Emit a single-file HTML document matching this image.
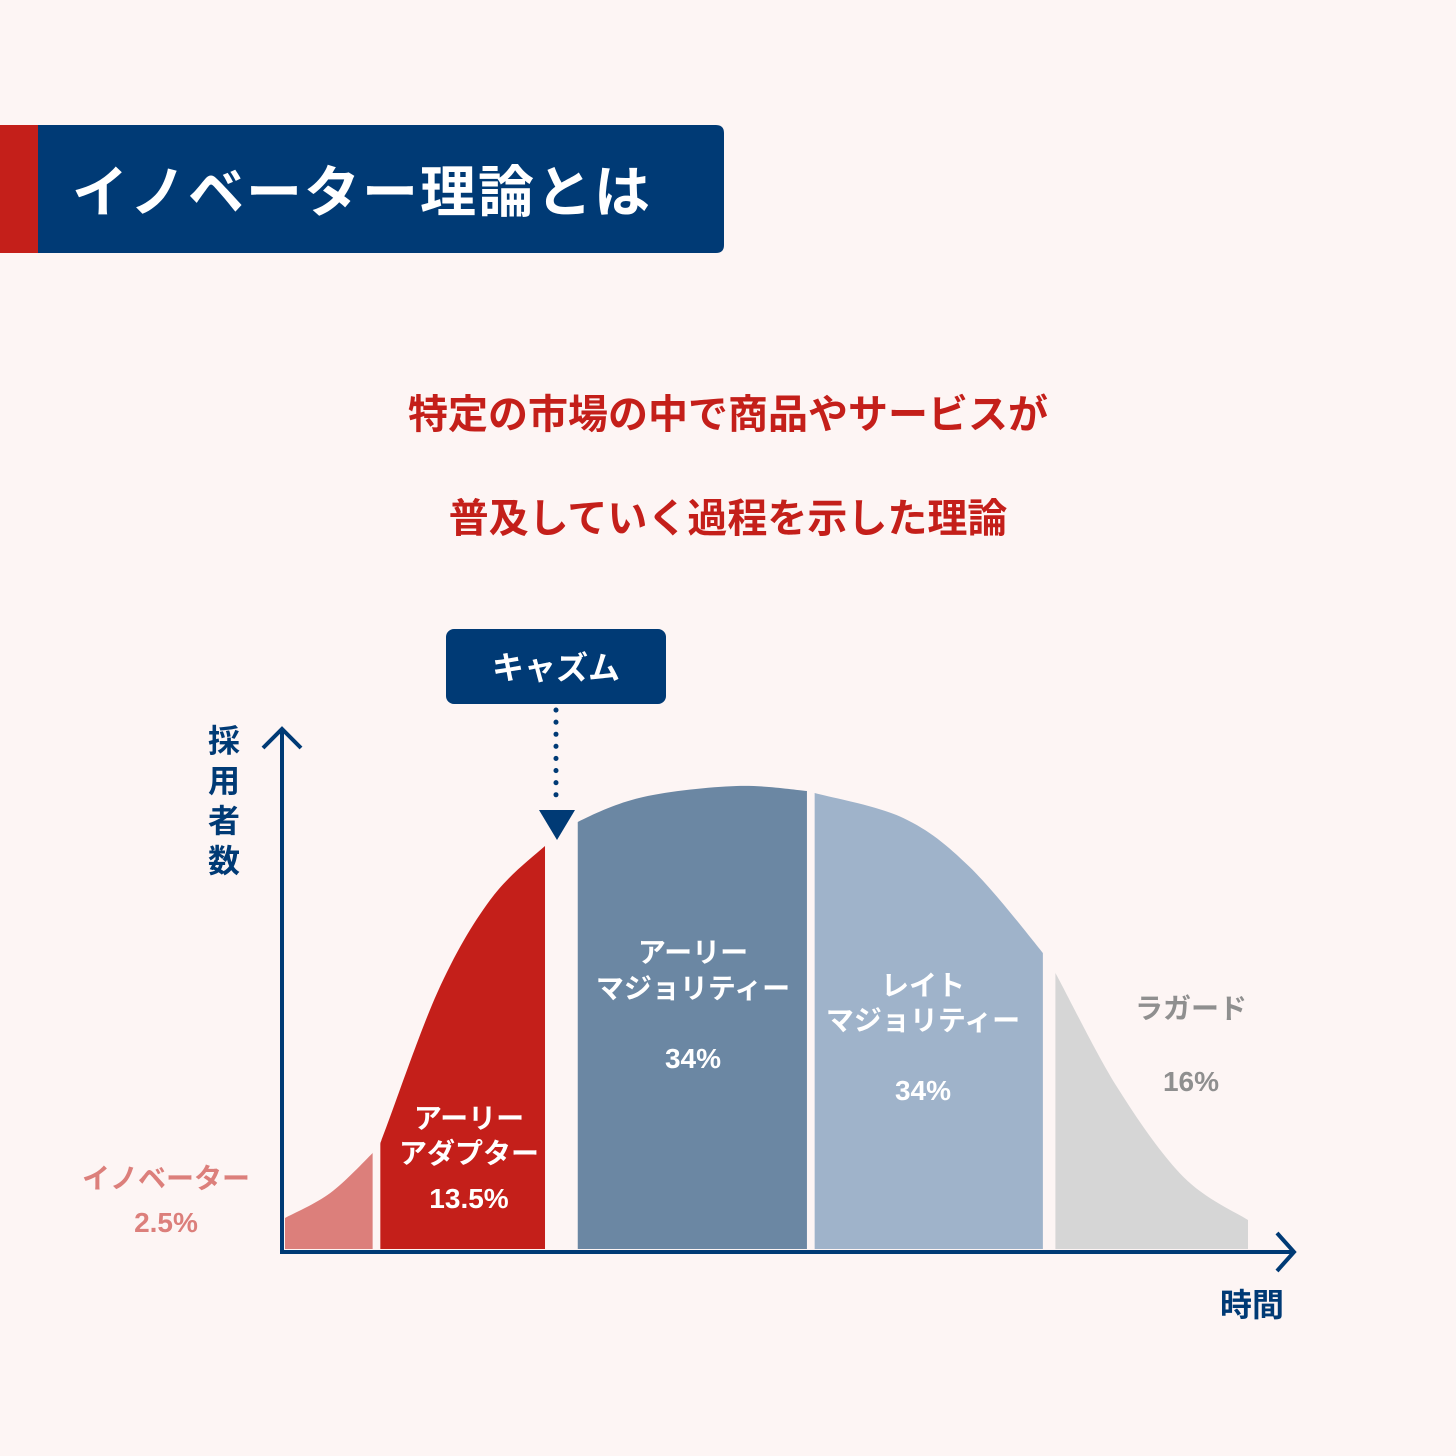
<!DOCTYPE html>
<html><head><meta charset="utf-8">
<style>
html,body{margin:0;padding:0;background:#fdf5f4;}
body{width:1456px;height:1456px;position:relative;overflow:hidden;font-family:"Liberation Sans","Noto Sans CJK JP",sans-serif;}
</style></head>
<body>
<svg width="1456" height="1456" viewBox="0 0 1456 1456" xmlns="http://www.w3.org/2000/svg" style="position:absolute;left:0;top:0;font-family:'Liberation Sans','Noto Sans CJK JP',sans-serif;font-weight:bold;">
<rect width="1456" height="1456" fill="#fdf5f4"/>
<rect x="0" y="125" width="38" height="128" fill="#c41f1a"/>
<path d="M38,125 H716 Q724,125 724,133 V245 Q724,253 716,253 H38 Z" fill="#003a75"/>
<text x="72" y="212" font-size="56" fill="#fff" letter-spacing="2">イノベーター理論とは</text>
<text x="728" y="428" font-size="40" fill="#c41f1a" text-anchor="middle">特定の市場の中で商品やサービスが</text>
<text x="728" y="532" font-size="40" fill="#c41f1a" text-anchor="middle">普及していく過程を示した理論</text>
<g id="curve-layer"></g>
<rect x="446" y="629" width="220" height="75" rx="8" fill="#003a75"/>
<text x="556" y="679" font-size="32" fill="#fff" text-anchor="middle">キャズム</text>
<line x1="556" y1="710" x2="556" y2="802" stroke="#003a75" stroke-width="5" stroke-linecap="round" stroke-dasharray="0.1 12"/>
<polygon points="539,810 575,810 557,840" fill="#003a75"/>
<line x1="282" y1="730" x2="282" y2="1254" stroke="#003a75" stroke-width="4"/>
<polyline points="263,748 282,729 301,748" fill="none" stroke="#003a75" stroke-width="4"/>
<line x1="280" y1="1252" x2="1292" y2="1252" stroke="#003a75" stroke-width="4"/>
<polyline points="1277,1233 1294,1252 1277,1271" fill="none" stroke="#003a75" stroke-width="4"/>
<g font-size="32" fill="#003a75" text-anchor="middle">
<text x="224" y="752">採</text><text x="224" y="792">用</text><text x="224" y="832">者</text><text x="224" y="872">数</text>
</g>
<text x="1252" y="1316" font-size="32" fill="#003a75" text-anchor="middle">時間</text>
<g font-size="28" text-anchor="middle">
<text x="166" y="1188" fill="#dc7f7b">イノベーター</text>
<text x="166" y="1232" fill="#dc7f7b">2.5%</text>
<text x="469" y="1128" fill="#fff">アーリー</text>
<text x="469" y="1163" fill="#fff">アダプター</text>
<text x="469" y="1208" fill="#fff">13.5%</text>
<text x="693" y="962" fill="#fff">アーリー</text>
<text x="693" y="998" fill="#fff">マジョリティー</text>
<text x="693" y="1068" fill="#fff">34%</text>
<text x="923" y="995" fill="#fff">レイト</text>
<text x="923" y="1030" fill="#fff">マジョリティー</text>
<text x="923" y="1100" fill="#fff">34%</text>
<text x="1191" y="1018" fill="#8f8f8f">ラガード</text>
<text x="1191" y="1091" fill="#8f8f8f">16%</text>
</g>
</svg>
<script>
const curveTime = [0, 4.7, 9.1, 9.9, 15.8, 21.3, 27.0, 30.4, 37.2, 46.9, 54.2, 55.0, 64.2, 71.1, 78.7, 80.0, 86.4, 93.3, 100];
const curveAdopters = [31, 56, 96, 106, 256, 349, 403, 427, 452, 463, 458, 456, 431, 382, 296, 276, 162, 72, 29];
const segmentNames = ["innovators", "early-adopters", "early-majority", "late-majority", "laggards"];
const segmentStart = [0, 9.9, 30.4, 55.0, 80.0];
const segmentEnd = [9.1, 27.0, 54.2, 78.7, 100];
const segmentColors = ["#dc7f7b", "#c41f1a", "#6b87a3", "#9fb3ca", "#d6d6d6"];

const xScale = t => 285 + t * 9.63;
const yScale = v => 1249 - v;
const NS = "http://www.w3.org/2000/svg";
const layer = document.getElementById("curve-layer");

const pts = curveTime.map((t, i) => [xScale(t), yScale(curveAdopters[i])]);
let d = "M" + pts[0][0] + "," + yScale(0) + " L" + pts[0][0] + "," + pts[0][1];
for (let i = 0; i < pts.length - 1; i++) {
  const p0 = pts[Math.max(0, i - 1)], p1 = pts[i], p2 = pts[i + 1], p3 = pts[Math.min(pts.length - 1, i + 2)];
  const c1x = p1[0] + (p2[0] - p0[0]) / 6, c1y = p1[1] + (p2[1] - p0[1]) / 6;
  const c2x = p2[0] - (p3[0] - p1[0]) / 6, c2y = p2[1] - (p3[1] - p1[1]) / 6;
  d += " C" + c1x + "," + c1y + " " + c2x + "," + c2y + " " + p2[0] + "," + p2[1];
}
d += " L" + pts[pts.length - 1][0] + "," + yScale(0) + " Z";

const defs = document.createElementNS(NS, "defs");
layer.appendChild(defs);
segmentNames.forEach((name, i) => {
  const cp = document.createElementNS(NS, "clipPath");
  cp.setAttribute("id", "clip-" + name);
  const r = document.createElementNS(NS, "rect");
  r.setAttribute("x", xScale(segmentStart[i]));
  r.setAttribute("y", 600);
  r.setAttribute("width", xScale(segmentEnd[i]) - xScale(segmentStart[i]));
  r.setAttribute("height", 700);
  cp.appendChild(r);
  defs.appendChild(cp);
  const p = document.createElementNS(NS, "path");
  p.setAttribute("d", d);
  p.setAttribute("fill", segmentColors[i]);
  p.setAttribute("clip-path", "url(#clip-" + name + ")");
  
  
  layer.appendChild(p);
});
</script>
</body></html>
